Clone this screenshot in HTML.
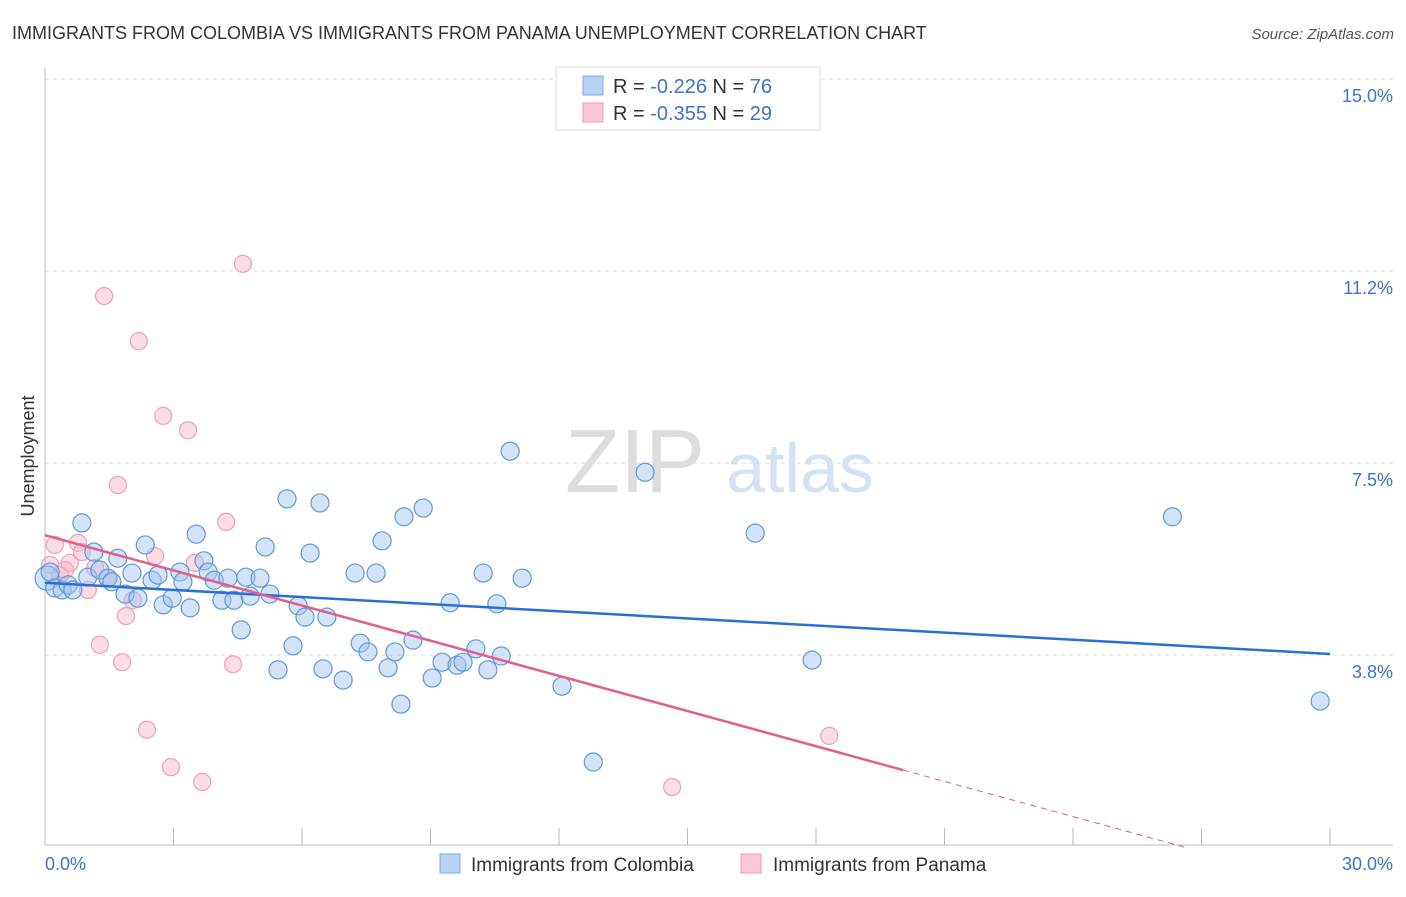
<!DOCTYPE html>
<html><head><meta charset="utf-8"><style>
body{margin:0;background:#fff;font-family:"Liberation Sans",sans-serif}
svg text{font-family:"Liberation Sans",sans-serif}
</style></head><body>
<svg id="c" width="1406" height="892">
<text x="12" y="39" font-size="18" fill="#333">IMMIGRANTS FROM COLOMBIA VS IMMIGRANTS FROM PANAMA UNEMPLOYMENT CORRELATION CHART</text>
<text x="1394" y="39" font-size="15" fill="#555" text-anchor="end" font-style="italic">Source: ZipAtlas.com</text>
<text x="635" y="492" font-size="90" fill="#ddd" font-family="Liberation Serif" text-anchor="middle">ZIP</text>
<text x="800" y="492" font-size="70" fill="#d4e2f4" text-anchor="middle">atlas</text>
<text transform="translate(34,456) rotate(-90)" font-size="18" fill="#333" text-anchor="middle">Unemployment</text>
<g id="grid"></g><g id="marks"></g>
<g>
<rect x="556" y="67" width="264" height="63" fill="#fff" stroke="#ddd"/>
<rect x="583" y="76" width="20" height="19" fill="#b8d3f5" stroke="#7aa9e8"/>
<rect x="583" y="103" width="20" height="19" fill="#fbc8d6" stroke="#f09ab4"/>
<text x="613" y="93" font-size="20" fill="#333">R = <tspan fill="#3a72d8">-0.226</tspan>   N = <tspan fill="#3a72d8">76</tspan></text>
<text x="613" y="120" font-size="20" fill="#333">R = <tspan fill="#3a72d8">-0.355</tspan>   N = <tspan fill="#3a72d8">29</tspan></text>
</g>
<g>
<rect x="440" y="854" width="20" height="19" fill="#b8d3f5" stroke="#7aa9e8"/>
<text x="471" y="871" font-size="19" fill="#333">Immigrants from Colombia</text>
<rect x="741" y="854" width="20" height="19" fill="#fbc8d6" stroke="#f09ab4"/>
<text x="773" y="871" font-size="19" fill="#333">Immigrants from Panama</text>
</g>
</svg>
<script>
const blueX=[0.05,0.12,0.23,0.40,0.54,0.65,0.86,1.00,1.14,1.28,1.47,1.56,1.70,1.87,2.03,2.17,2.34,2.50,2.64,2.76,2.97,3.15,3.22,3.39,3.53,3.71,3.81,3.95,4.13,4.27,4.41,4.58,4.69,4.79,5.02,5.14,5.25,5.44,5.65,5.79,5.91,6.07,6.19,6.42,6.49,6.58,6.96,7.24,7.36,7.54,7.73,7.87,8.01,8.17,8.31,8.38,8.59,8.83,9.04,9.27,9.46,9.62,9.76,10.06,10.23,10.34,10.55,10.65,10.86,11.14,12.07,12.80,14.01,16.58,17.91,26.32,29.77];
const blueY=[5.25,5.37,5.06,5.02,5.12,5.02,6.33,5.27,5.76,5.41,5.25,5.18,5.64,4.94,5.35,4.86,5.90,5.21,5.31,4.73,4.86,5.37,5.18,4.67,6.11,5.59,5.37,5.21,4.82,5.25,4.82,4.24,5.27,4.90,5.25,5.86,4.94,3.46,6.80,3.93,4.71,4.49,5.74,6.72,3.48,4.49,3.26,5.35,3.98,3.81,5.35,5.98,3.50,3.81,2.79,6.45,4.04,6.62,3.30,3.61,4.77,3.55,3.61,3.87,5.35,3.46,4.75,3.73,7.73,5.25,3.14,1.66,7.32,6.13,3.65,6.45,2.85];
const pinkX=[0.12,0.23,0.35,0.47,0.58,0.77,0.86,1.00,1.17,1.28,1.38,1.47,1.70,1.80,1.89,2.05,2.19,2.38,2.57,2.76,2.94,3.34,3.50,3.67,4.23,4.39,4.62,14.64,18.31];
const pinkY=[5.51,5.90,5.31,5.41,5.55,5.94,5.76,5.02,5.45,3.95,10.76,5.25,7.07,3.61,4.51,4.82,9.88,2.29,5.68,8.42,1.56,8.14,5.55,1.27,6.35,3.57,11.39,1.17,2.17];
const yTicks=[3.75,7.5,11.25,15];
const yTickLabels=["3.8%","7.5%","11.2%","15.0%"];
const blueTrend=[5.16,3.77];
const pinkTrend=[6.09,-0.229];
const pinkSolidEnd=20.03;
const sx=v=>45+v/30*1285, sy=v=>847-v*51.2;
const NS="http://www.w3.org/2000/svg";
function mk(p,t,a){const e=document.createElementNS(NS,t);for(const k in a)e.setAttribute(k,a[k]);p.appendChild(e);return e;}
const g=document.getElementById('grid'),m=document.getElementById('marks');
yTicks.forEach((t,i)=>{
 const l=mk(g,'line',{x1:45,x2:1393,y1:sy(t),y2:sy(t),stroke:'#ddd','stroke-dasharray':'4,4'});
 
 
 const tx=mk(g,'text',{x:1393,y:sy(t)+23,'font-size':18,fill:'#3a72d8','text-anchor':'end'});
 tx.textContent=yTickLabels[i];
 
 
});
mk(g,'line',{x1:45,x2:45,y1:68,y2:845,stroke:'#bbb'});
mk(g,'line',{x1:45,x2:1393,y1:845,y2:845,stroke:'#bbb'});
for(let i=1;i<=10;i++){const x=sx(i*3);const t=mk(g,'line',{x1:x,x2:x,y1:828,y2:845,stroke:'#bbb'});
 
 }
const x0=mk(g,'text',{x:45,y:870,'font-size':18,fill:'#3a72d8'});x0.textContent='0.0%';


const x1=mk(g,'text',{x:1393,y:870,'font-size':18,fill:'#3a72d8','text-anchor':'end'});x1.textContent='30.0%';


pinkX.forEach((x,i)=>{const c=mk(m,'circle',{cx:sx(x),cy:sy(pinkY[i]),r:8.5,fill:'rgba(248,180,200,0.45)',stroke:'#f0a0b8','stroke-width':1.2});
 
 });
blueX.forEach((x,i)=>{const c=mk(m,'circle',{cx:sx(x),cy:sy(blueY[i]),r:i==0?12:9,fill:'rgba(160,196,240,0.45)',stroke:'#5f98e0','stroke-width':1.2});
 
 });
const bl=mk(m,'line',{x1:sx(0),y1:sy(blueTrend[0]),x2:sx(30),y2:sy(blueTrend[1]),stroke:'#2a6fd6','stroke-width':2.5});


const pf=x=>pinkTrend[0]+pinkTrend[1]*x;
const pl=mk(m,'line',{x1:sx(0),y1:sy(pf(0)),x2:sx(pinkSolidEnd),y2:sy(pf(pinkSolidEnd)),stroke:'#e0608a','stroke-width':2.5});


const xe=-pinkTrend[0]/pinkTrend[1];
const pd=mk(m,'line',{x1:sx(pinkSolidEnd),y1:sy(pf(pinkSolidEnd)),x2:sx(xe),y2:sy(0),stroke:'#e0608a','stroke-width':1,'stroke-dasharray':'6,5'});


</script>
</body></html>
